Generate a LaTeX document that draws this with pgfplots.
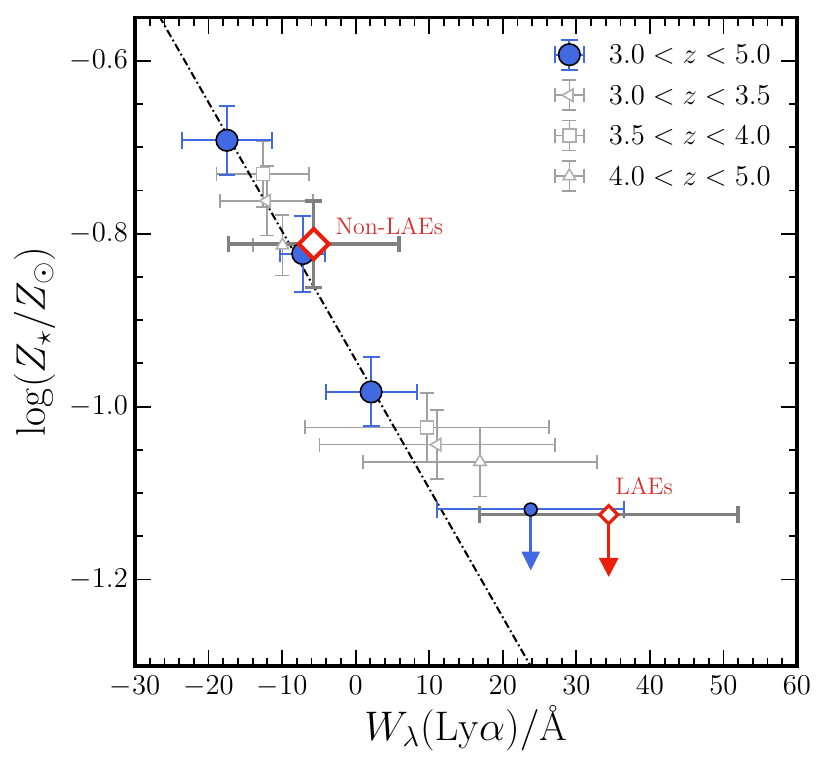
\documentclass[border=0pt]{standalone}
\usepackage{pgfplots}
\pgfplotsset{compat=1.18}
\usetikzlibrary{arrows.meta}
\definecolor{royal}{RGB}{65,105,225}
\definecolor{lgray}{RGB}{160,160,160}
\definecolor{lgraym}{RGB}{175,175,175}
\definecolor{dgray}{RGB}{128,128,128}
\definecolor{dred}{RGB}{235,30,10}
\definecolor{tred}{RGB}{215,45,45}
\newcommand{\errcross}[3]{%
  \draw[#1, line width=#2] (-7.3bp,0bp) -- (7.3bp,0bp) (0bp,-7.5bp) -- (0bp,7.5bp)
    (-7.3bp,-#3) -- (-7.3bp,#3) (7.3bp,-#3) -- (7.3bp,#3)
    (-#3,7.5bp) -- (#3,7.5bp) (-#3,-7.5bp) -- (#3,-7.5bp);}
\begin{document}
\begin{tikzpicture}
\path[use as bounding box] (-67.5bp,-52.5bp) rectangle (347.5bp,333bp);
\begin{axis}[
  at={(0bp,0bp)}, anchor=south west,
  scale only axis, width=331bp, height=324.25bp,
  xmin=-30, xmax=60, ymin=-1.3, ymax=-0.55,
  xtick={-30,-20,...,60}, ytick={-1.2,-1.0,-0.8,-0.6},
  minor x tick num=4, minor y tick num=3,
  tick align=inside, xtick pos=both, ytick pos=both,
  major tick length=8bp, minor tick length=4bp,
  every tick/.style={black, line width=0.9bp},
  axis line style={line width=1.6bp},
  tick label style={font=\fontsize{14.6}{17}\selectfont},
  yticklabel style={/pgf/number format/fixed, /pgf/number format/fixed zerofill, /pgf/number format/precision=1, inner sep=0pt, xshift=-3.4bp},
  xticklabel style={inner sep=0pt, yshift=-4.8bp},
  xlabel={$W_\lambda(\mathrm{Ly}\alpha)/\mbox{\AA}$},
  ylabel={$\log(Z_\star/Z_\odot)$},
  every axis x label/.style={at={(axis description cs:0.5,0)}, anchor=base, yshift=-37bp, font=\fontsize{20}{24}\selectfont},
  every axis y label/.style={at={(axis description cs:-0.136,0.5)}, rotate=90, anchor=base, font=\fontsize{20}{24}\selectfont},
  legend style={draw=none, fill=none, at={(axis description cs:0.632,0.968)}, anchor=north west,
    inner xsep=0pt, inner ysep=0pt, row sep=4.4bp, font=\fontsize{14.2}{17}\selectfont,
    nodes={inner sep=0pt, text depth=0pt},
    /tikz/every odd column/.append style={column sep=12bp}},
  legend cell align=left,
]
% legend
\addlegendimage{legend image code/.code={\errcross{royal}{1bp}{4.2bp}\draw[mark=*, mark size=5.4bp, mark options={fill=royal,draw=black,line width=0.8bp}] plot coordinates {(0bp,0bp)};}}
\addlegendentry{$3.0<z<5.0$}
\addlegendimage{legend image code/.code={\errcross{lgray}{0.8bp}{3.5bp}\draw[mark=triangle*, mark size=3.6bp, mark options={rotate=90,fill=white,draw=lgraym,line width=0.8bp}] plot coordinates {(0bp,0bp)};}}
\addlegendentry{$3.0<z<3.5$}
\addlegendimage{legend image code/.code={\errcross{lgray}{0.8bp}{3.5bp}\draw[mark=square*, mark size=3.3bp, mark options={fill=white,draw=lgraym,line width=0.8bp}] plot coordinates {(0bp,0bp)};}}
\addlegendentry{$3.5<z<4.0$}
\addlegendimage{legend image code/.code={\errcross{lgray}{0.8bp}{3.5bp}\draw[mark=triangle*, mark size=3.6bp, mark options={fill=white,draw=lgraym,line width=0.8bp}] plot coordinates {(0bp,0bp)};}}
\addlegendentry{$4.0<z<5.0$}

% 3.0<z<3.5
\addplot[forget plot, only marks, mark=triangle*, mark size=3.6bp,
  mark options={rotate=90, fill=white, draw=lgraym, line width=0.8bp},
  error bars/.cd, x dir=both, x explicit, y dir=both, y explicit,
  error bar style={lgray, line width=0.85bp}, error mark options={rotate=90, lgray, line width=0.85bp, mark size=3.5bp}]
coordinates {(-12.1,-0.762) +- (6.3,0.04) (11.1,-1.044) +- (16.0,0.04)};
% 3.5<z<4.0
\addplot[forget plot, only marks, mark=square*, mark size=3.3bp,
  mark options={fill=white, draw=lgraym, line width=0.8bp},
  error bars/.cd, x dir=both, x explicit, y dir=both, y explicit,
  error bar style={lgray, line width=0.85bp}, error mark options={rotate=90, lgray, line width=0.85bp, mark size=3.5bp}]
coordinates {(-12.6,-0.731) +- (6.3,0.038) (9.7,-1.024) +- (16.6,0.04)};
% 4.0<z<5.0
\addplot[forget plot, only marks, mark=triangle*, mark size=3.6bp,
  mark options={fill=white, draw=lgraym, line width=0.8bp},
  error bars/.cd, x dir=both, x explicit, y dir=both, y explicit,
  error bar style={lgray, line width=0.85bp}, error mark options={rotate=90, lgray, line width=0.85bp, mark size=3.5bp}]
coordinates {(-9.95,-0.8135) +- (4.0,0.035) (16.9,-1.064) +- (15.9,0.04)};

% relation
\addplot[forget plot, black, line width=1.05bp, dash pattern=on 4bp off 1.6bp on 0.9bp off 1.6bp]
coordinates {(-30,-0.4994) (30,-1.3926)};

% 3.0<z<5.0 stacks
\addplot[forget plot, only marks, mark=*, mark size=5.4bp,
  mark options={fill=royal, draw=black, line width=0.8bp},
  error bars/.cd, x dir=both, x explicit, y dir=both, y explicit,
  error bar style={royal, line width=1bp}, error mark options={rotate=90, royal, line width=1bp, mark size=4.2bp}]
coordinates {(-17.5,-0.692) +- (6.1,0.04) (-7.2,-0.823) +- (3.05,0.044) (2.1,-0.983) +- (6.2,0.04)};

% upper limit (blue)
\addplot[forget plot, royal, line width=1.5bp, -{Triangle[width=9bp,length=9.5bp]}]
coordinates {(23.8,-1.119) (23.8,-1.1896)};
\addplot[forget plot, only marks, mark=*, mark size=3.2bp,
  mark options={fill=royal, draw=black, line width=0.8bp},
  error bars/.cd, x dir=both, x explicit,
  error bar style={royal, line width=1bp}, error mark options={rotate=90, royal, line width=1bp, mark size=4.2bp}]
coordinates {(23.8,-1.119) +- (12.7,0)};

% Non-LAEs
\addplot[forget plot, only marks, mark=square*, mark size=5.3bp,
  mark options={rotate=45, fill=white, draw=dred, line width=2bp},
  error bars/.cd, x dir=both, x explicit, y dir=both, y explicit,
  error bar style={dgray, line width=1.7bp}, error mark options={rotate=90, dgray, line width=1.7bp, mark size=4.2bp}]
coordinates {(-5.7,-0.812) +- (11.6,0.05)};

% LAEs
\addplot[forget plot, dred, line width=1.5bp, -{Triangle[width=9.5bp,length=9.5bp]}]
coordinates {(34.4,-1.125) (34.4,-1.197)};
\addplot[forget plot, only marks, mark=square*, mark size=3.2bp,
  mark options={rotate=45, fill=white, draw=dred, line width=1.6bp},
  error bars/.cd, x dir=both, x explicit,
  error bar style={dgray, line width=1.7bp}, error mark options={rotate=90, dgray, line width=1.7bp, mark size=4.2bp}]
coordinates {(34.4,-1.125) +- (17.6,0)};

\node[anchor=base west, text=tred, font=\fontsize{12}{14}\selectfont, inner sep=0pt] at (axis cs:-2.77,-0.8008) {Non-LAEs};
\node[anchor=base west, text=tred, font=\fontsize{12}{14}\selectfont, inner sep=0pt] at (axis cs:35.26,-1.1017) {LAEs};
\end{axis}
\end{tikzpicture}
\end{document}
